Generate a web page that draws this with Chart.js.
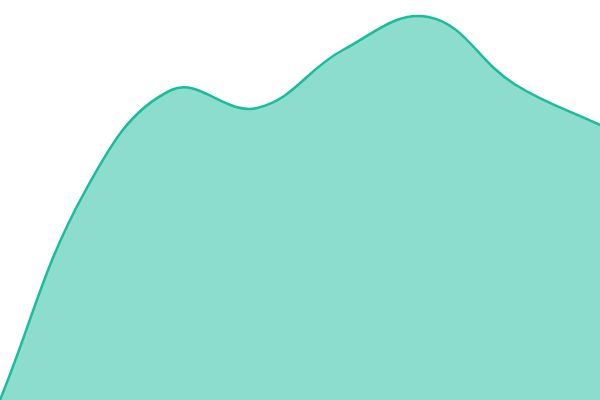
<!DOCTYPE html>
<html lang="en">
<head>
    <meta charset="UTF-8">
    <title>Area</title>
    <script src="https://cdn.jsdelivr.net/npm/chart.js"></script>
    <style>
      html, body { margin: 0; padding: 0; background: #fff; }
      #wrap { width: 600px; height: 400px; }
    </style>
</head>
<body>
    <div id="wrap">
        <canvas id="myChart"></canvas>
    </div>
</body>
<script>
    // categories (x positions) and series values
    const labels = ["1", "2", "3", "4", "5", "6", "7", "8"];
    const values = [0, 52.5, 77.5, 73, 87.5, 95.75, 79, 68.75];
    const yMin = 0;
    const yMax = 100;

    new Chart(document.getElementById("myChart"), {
      type: "line",
      data: {
        labels: labels,
        datasets: [
          {
            data: values,
            borderColor: "#1abc9c",
            backgroundColor: "rgba(26, 188, 156, 0.5)",
            borderWidth: 2.5,
            fill: "origin",
            tension: 0.4,
            pointRadius: 0,
          },
        ],
      },
      options: {
        responsive: true,
        maintainAspectRatio: false,
        animation: false,
        layout: { padding: 0 },
        scales: {
          x: { display: false, offset: false },
          y: { display: false, min: yMin, max: yMax },
        },
        plugins: {
          legend: { display: false },
          tooltip: { enabled: false },
        },
      },
    });
</script>
</html>
